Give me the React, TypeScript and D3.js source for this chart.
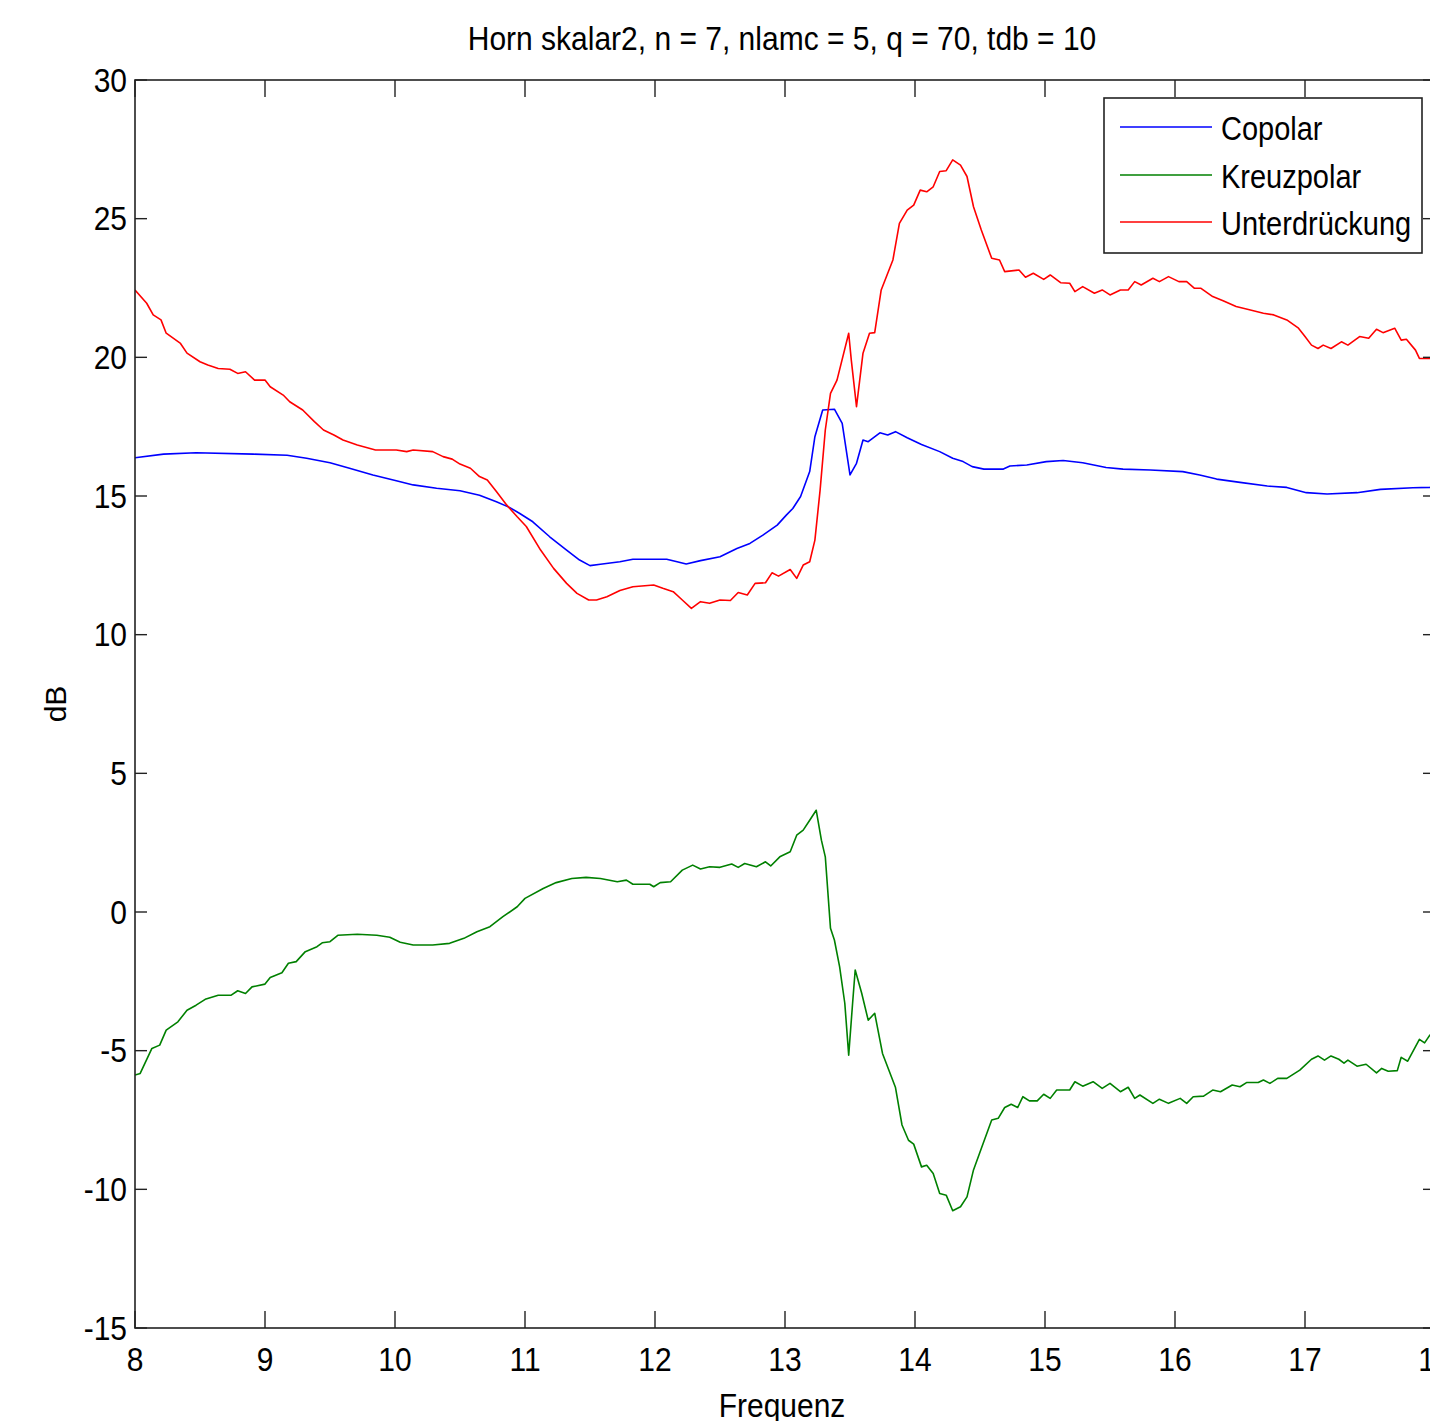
import React from "react";
import * as d3 from "d3";

const title = "Horn skalar2, n = 7, nlamc = 5, q = 70, tdb = 10";
const xLabel = "Frequenz";
const yLabel = "dB";
const xTicks = [8, 9, 10, 11, 12, 13, 14, 15, 16, 17, 18];
const yTicks = [-15, -10, -5, 0, 5, 10, 15, 20, 25, 30];
const seriesNames = ["Copolar", "Kreuzpolar", "Unterdrückung"];
const seriesColors = ["#0000ff", "#008000", "#ff0000"];

// [Frequenz, dB]
const copolar = [
  [8.0, 16.38], [8.22, 16.51], [8.47, 16.56], [8.91, 16.51], [9.17, 16.47], [9.32, 16.36],
  [9.5, 16.2], [9.65, 16.0], [9.83, 15.76], [10.01, 15.55], [10.14, 15.4], [10.32, 15.28],
  [10.5, 15.19], [10.65, 15.03], [10.78, 14.79], [10.88, 14.59], [10.96, 14.37], [11.06, 14.07],
  [11.19, 13.53], [11.32, 13.05], [11.42, 12.69], [11.5, 12.49], [11.58, 12.54], [11.73, 12.63],
  [11.83, 12.72], [12.09, 12.72], [12.17, 12.63], [12.24, 12.55], [12.35, 12.67], [12.5, 12.81],
  [12.63, 13.11], [12.73, 13.29], [12.83, 13.59], [12.94, 13.95], [13.01, 14.31], [13.06, 14.55],
  [13.12, 14.98], [13.19, 15.88], [13.23, 17.14], [13.29, 18.1], [13.38, 18.13], [13.44, 17.62],
  [13.5, 15.76], [13.55, 16.18], [13.6, 17.02], [13.64, 16.96], [13.73, 17.28], [13.79, 17.2],
  [13.85, 17.32], [13.94, 17.1], [14.05, 16.86], [14.19, 16.6], [14.29, 16.36], [14.37, 16.24],
  [14.44, 16.06], [14.53, 15.97], [14.68, 15.97], [14.73, 16.08], [14.86, 16.12], [15.01, 16.24],
  [15.14, 16.28], [15.29, 16.2], [15.47, 16.03], [15.6, 15.97], [15.81, 15.94], [16.06, 15.88],
  [16.19, 15.76], [16.32, 15.61], [16.5, 15.49], [16.71, 15.36], [16.86, 15.31], [17.01, 15.12],
  [17.17, 15.07], [17.4, 15.12], [17.58, 15.24], [17.83, 15.3], [17.96, 15.31], [18.0, 15.32],
];

const kreuzpolar = [
  [8.0, -5.88], [8.04, -5.82], [8.13, -4.92], [8.19, -4.8], [8.24, -4.26], [8.33, -3.96],
  [8.4, -3.54], [8.47, -3.36], [8.54, -3.15], [8.64, -3.0], [8.74, -3.0], [8.79, -2.84],
  [8.85, -2.94], [8.9, -2.7], [9.0, -2.6], [9.04, -2.36], [9.13, -2.19], [9.18, -1.85],
  [9.24, -1.79], [9.31, -1.43], [9.4, -1.25], [9.44, -1.11], [9.5, -1.07], [9.56, -0.84],
  [9.71, -0.8], [9.86, -0.84], [9.96, -0.91], [10.04, -1.09], [10.14, -1.19], [10.29, -1.19],
  [10.42, -1.13], [10.53, -0.95], [10.63, -0.71], [10.73, -0.53], [10.83, -0.17], [10.94, 0.19],
  [11.0, 0.49], [11.14, 0.85], [11.24, 1.06], [11.36, 1.21], [11.47, 1.25], [11.58, 1.21],
  [11.71, 1.09], [11.78, 1.15], [11.83, 1.0], [11.96, 1.0], [11.99, 0.91], [12.04, 1.06],
  [12.12, 1.09], [12.21, 1.51], [12.29, 1.69], [12.35, 1.55], [12.42, 1.63], [12.5, 1.61],
  [12.59, 1.73], [12.64, 1.61], [12.69, 1.75], [12.78, 1.63], [12.85, 1.81], [12.89, 1.66],
  [12.96, 1.99], [13.04, 2.17], [13.09, 2.77], [13.14, 2.95], [13.19, 3.31], [13.24, 3.67],
  [13.28, 2.59], [13.31, 1.99], [13.35, -0.59], [13.38, -1.01], [13.42, -1.97], [13.46, -3.29],
  [13.49, -5.16], [13.52, -3.29], [13.54, -2.09], [13.59, -2.93], [13.64, -3.9], [13.69, -3.65],
  [13.75, -5.1], [13.85, -6.33], [13.9, -7.68], [13.95, -8.23], [13.99, -8.37], [14.05, -9.19],
  [14.09, -9.13], [14.14, -9.43], [14.19, -10.15], [14.24, -10.21], [14.29, -10.77], [14.35, -10.63],
  [14.4, -10.27], [14.45, -9.3], [14.51, -8.53], [14.59, -7.5], [14.64, -7.44], [14.69, -7.05],
  [14.74, -6.93], [14.79, -7.05], [14.83, -6.66], [14.88, -6.81], [14.94, -6.81], [14.99, -6.57],
  [15.04, -6.72], [15.09, -6.42], [15.19, -6.42], [15.23, -6.12], [15.29, -6.28], [15.37, -6.12],
  [15.44, -6.36], [15.5, -6.18], [15.58, -6.48], [15.64, -6.32], [15.69, -6.72], [15.73, -6.6],
  [15.83, -6.9], [15.88, -6.75], [15.95, -6.9], [16.04, -6.72], [16.09, -6.9], [16.14, -6.66],
  [16.22, -6.64], [16.29, -6.42], [16.35, -6.48], [16.44, -6.24], [16.5, -6.3], [16.55, -6.15],
  [16.64, -6.15], [16.68, -6.06], [16.73, -6.18], [16.79, -6.0], [16.86, -6.0], [16.96, -5.7],
  [17.05, -5.31], [17.1, -5.19], [17.15, -5.34], [17.2, -5.19], [17.26, -5.31], [17.3, -5.45],
  [17.33, -5.34], [17.4, -5.56], [17.47, -5.49], [17.55, -5.8], [17.59, -5.64], [17.64, -5.74],
  [17.71, -5.72], [17.74, -5.24], [17.79, -5.38], [17.88, -4.59], [17.92, -4.72], [17.96, -4.44],
  [18.0, -4.5],
];

const unterdrueckung = [
  [8.0, 22.43], [8.09, 21.95], [8.14, 21.53], [8.2, 21.35], [8.24, 20.87], [8.35, 20.5],
  [8.4, 20.15], [8.5, 19.84], [8.56, 19.72], [8.64, 19.6], [8.73, 19.57], [8.79, 19.42],
  [8.85, 19.48], [8.92, 19.18], [9.0, 19.18], [9.04, 18.94], [9.14, 18.64], [9.19, 18.4],
  [9.29, 18.1], [9.38, 17.68], [9.45, 17.38], [9.53, 17.2], [9.6, 17.02], [9.71, 16.84],
  [9.85, 16.66], [10.01, 16.66], [10.09, 16.6], [10.14, 16.66], [10.29, 16.6], [10.37, 16.42],
  [10.44, 16.33], [10.5, 16.15], [10.58, 16.0], [10.65, 15.7], [10.71, 15.58], [10.78, 15.16],
  [10.86, 14.67], [10.94, 14.25], [11.01, 13.9], [11.12, 13.05], [11.22, 12.39], [11.32, 11.85],
  [11.4, 11.49], [11.49, 11.25], [11.55, 11.25], [11.63, 11.37], [11.73, 11.59], [11.83, 11.73],
  [11.99, 11.79], [12.06, 11.67], [12.14, 11.55], [12.21, 11.25], [12.28, 10.95], [12.35, 11.19],
  [12.42, 11.13], [12.5, 11.25], [12.58, 11.23], [12.64, 11.52], [12.71, 11.43], [12.77, 11.85],
  [12.85, 11.87], [12.9, 12.23], [12.95, 12.11], [13.04, 12.35], [13.09, 12.03], [13.14, 12.51],
  [13.19, 12.63], [13.23, 13.41], [13.27, 15.21], [13.31, 17.38], [13.35, 18.7], [13.4, 19.18],
  [13.49, 20.87], [13.51, 19.9], [13.55, 18.22], [13.6, 20.15], [13.65, 20.87], [13.69, 20.89],
  [13.74, 22.43], [13.83, 23.51], [13.88, 24.83], [13.94, 25.31], [13.99, 25.49], [14.04, 26.03],
  [14.09, 25.97], [14.14, 26.15], [14.19, 26.7], [14.24, 26.73], [14.29, 27.12], [14.35, 26.93],
  [14.4, 26.52], [14.45, 25.43], [14.51, 24.59], [14.59, 23.57], [14.65, 23.51], [14.69, 23.09],
  [14.8, 23.15], [14.85, 22.89], [14.91, 23.03], [14.99, 22.81], [15.04, 22.97], [15.12, 22.69],
  [15.19, 22.67], [15.23, 22.37], [15.29, 22.55], [15.38, 22.31], [15.44, 22.43], [15.5, 22.25],
  [15.58, 22.43], [15.64, 22.43], [15.69, 22.73], [15.74, 22.61], [15.83, 22.85], [15.88, 22.73],
  [15.95, 22.91], [16.03, 22.73], [16.09, 22.73], [16.15, 22.49], [16.2, 22.49], [16.29, 22.19],
  [16.37, 22.04], [16.47, 21.83], [16.58, 21.71], [16.68, 21.59], [16.76, 21.53], [16.86, 21.35],
  [16.95, 21.05], [17.0, 20.75], [17.05, 20.44], [17.1, 20.32], [17.14, 20.44], [17.2, 20.32],
  [17.28, 20.56], [17.33, 20.44], [17.42, 20.75], [17.49, 20.69], [17.55, 21.01], [17.6, 20.89],
  [17.69, 21.05], [17.74, 20.62], [17.78, 20.65], [17.85, 20.26], [17.88, 19.96], [17.96, 19.96],
  [18.0, 19.9],
];

const allSeries = [copolar, kreuzpolar, unterdrueckung];

const font = "'Liberation Sans', Arial, sans-serif";
const axisColor = "#222";

// stretched text, the source figure is a little taller than wide
const Label = ({ x, y, sy = 1.12, size = 30, anchor = "middle", rotate = 0, children }) => (
  <text
    transform={`translate(${x},${y}) rotate(${rotate}) scale(1,${sy})`}
    fontFamily={font}
    fontSize={size}
    textAnchor={anchor}
    dominantBaseline="central"
    fill="#000"
  >
    {children}
  </text>
);

const App = () => {
  const width = 1430,
    height = 1421;
  const margin = { top: 80, left: 135 };
  const plotW = 1300,
    plotH = 1248;

  const x = d3.scaleLinear().domain([8, 18]).range([margin.left, margin.left + plotW]);
  const y = d3.scaleLinear().domain([-15, 30]).range([margin.top + plotH, margin.top]);

  const line = d3
    .line()
    .x((d) => x(d[0]))
    .y((d) => y(d[1]));

  const x0 = x(8),
    x1 = x(18),
    y0 = y(-15),
    y1 = y(30);
  const xTickLen = 17,
    yTickLen = 12;

  const legend = { x: 1104, y: 98, w: 318, h: 155 };
  const rowY = [127, 175, 222];

  return (
    <svg
      width={width}
      height={height}
      style={{ position: "absolute", left: 0, top: 0, background: "#fff" }}
    >
      <defs>
        <clipPath id="plotArea">
          <rect x={x0} y={y1} width={x1 - x0} height={y0 - y1} />
        </clipPath>
      </defs>
      <rect x={0} y={0} width={width} height={height} fill="#fff" />

      <g clipPath="url(#plotArea)">
        {allSeries.map((s, i) => (
          <path
            key={seriesNames[i]}
            d={line(s)}
            fill="none"
            stroke={seriesColors[i]}
            strokeWidth={1.6}
            strokeLinejoin="round"
          />
        ))}
      </g>

      {/* axes box */}
      <rect x={x0} y={y1} width={x1 - x0} height={y0 - y1} fill="none" stroke={axisColor} strokeWidth={1.6} />

      {xTicks.map((t) => (
        <g key={"x" + t}>
          <line x1={x(t)} x2={x(t)} y1={y0} y2={y0 - xTickLen} stroke={axisColor} strokeWidth={1.4} />
          <line x1={x(t)} x2={x(t)} y1={y1} y2={y1 + xTickLen} stroke={axisColor} strokeWidth={1.4} />
          <Label x={x(t)} y={y0 + 31}>{t}</Label>
        </g>
      ))}

      {yTicks.map((t) => (
        <g key={"y" + t}>
          <line x1={x0} x2={x0 + yTickLen} y1={y(t)} y2={y(t)} stroke={axisColor} strokeWidth={1.4} />
          <line x1={x1} x2={x1 - yTickLen} y1={y(t)} y2={y(t)} stroke={axisColor} strokeWidth={1.4} />
          <Label x={x0 - 8} y={y(t)} anchor="end">{t}</Label>
        </g>
      ))}

      <Label x={(x0 + x1) / 2 - 3} y={38}>{title}</Label>
      <Label x={(x0 + x1) / 2 - 3} y={1405}>{xLabel}</Label>
      <Label x={55} y={(y0 + y1) / 2} rotate={-90} sy={1}>{yLabel}</Label>

      {/* legend */}
      <rect x={legend.x} y={legend.y} width={legend.w} height={legend.h} fill="#fff" stroke={axisColor} strokeWidth={1.6} />
      {seriesNames.map((name, i) => (
        <g key={name}>
          <line x1={1120} x2={1212} y1={rowY[i]} y2={rowY[i]} stroke={seriesColors[i]} strokeWidth={1.6} />
          <Label x={1221} y={rowY[i] + 2} anchor="start" size={29} sy={1.16}>{name}</Label>
        </g>
      ))}
    </svg>
  );
};

export default App;
